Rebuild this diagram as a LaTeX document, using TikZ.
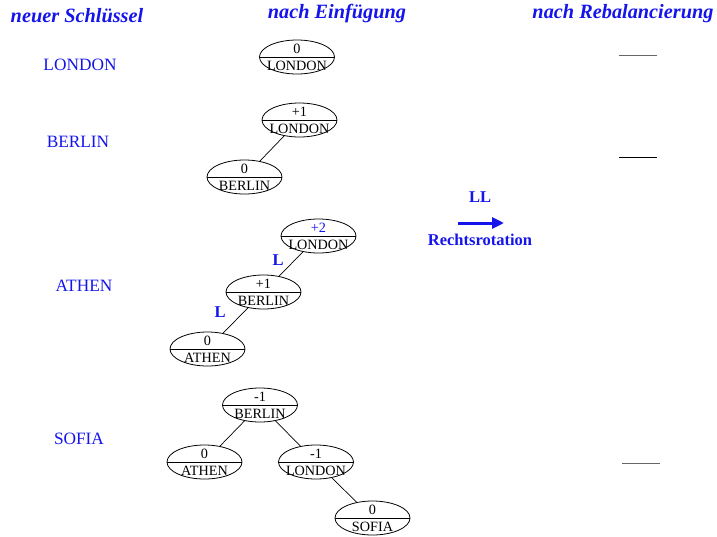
\documentclass[tikz,border=0pt]{standalone}
\usepackage{fontspec}
\setmainfont{Liberation Serif}
\usetikzlibrary{shapes.geometric,arrows.meta}
\definecolor{hblue}{RGB}{20,20,235}
\tikzset{
  avlnode/.style={ellipse,draw,line width=0.8pt,minimum width=75pt,minimum height=34pt,inner sep=0pt},
  avltext/.style={font=\fontsize{14.2}{14}\selectfont,inner sep=0pt},
  header/.style={font=\fontsize{20.3}{20}\selectfont\bfseries\itshape,text=hblue},
  keylabel/.style={font=\fontsize{17.3}{17}\selectfont,text=hblue},
  edgelabel/.style={font=\fontsize{16.5}{16}\selectfont\bfseries,text=hblue},
  treeedge/.style={line width=0.7pt},
  placeholder/.style={line width=0.9pt}
}
\newcommand{\avl}[5][black]{%
  \node[avlnode] (#2) at (#3) {};
  \draw[line width=0.8pt] (#2.west) -- (#2.east);
  \node[avltext,text=#1] (#2-bal) at ([yshift=8.5pt]#2.center) {#4};
  \node[avltext] (#2-key) at ([yshift=-8.5pt]#2.center) {#5};
}
\begin{document}
\begin{tikzpicture}[x=1pt,y=-1pt]
\useasboundingbox (0,0) rectangle (717,536);
% headers
\node[header] (h1) at (77,16) {neuer Schlüssel};
\node[header] (h2) at (337,14) {nach Einfügung};
\node[header] (h3) at (623,14) {nach Rebalancierung};
% left key labels
\node[keylabel] (k1) at (80,65) {LONDON};
\node[keylabel] (k2) at (78,142) {BERLIN};
\node[keylabel] (k3) at (84,286) {ATHEN};
\node[keylabel] (k4) at (79,439) {SOFIA};
% tree 1
\avl{t1L}{297,57}{0}{LONDON}
% tree 2
\avl{t2L}{299.5,120}{+1}{LONDON}
\avl{t2B}{244.5,177}{0}{BERLIN}
\draw[treeedge] (t2L) -- (t2B);
% tree 3
\avl[hblue]{t3L}{318.5,236}{+2}{LONDON}
\avl{t3B}{263.5,292}{+1}{BERLIN}
\avl{t3A}{207.5,349}{0}{ATHEN}
\draw[treeedge] (t3L) -- (t3B);
\draw[treeedge] (t3B) -- (t3A);
\node[edgelabel] (l1) at (278,260) {L};
\node[edgelabel] (l2) at (220,312) {L};
% tree 4
\avl{t4B}{260,405}{-1}{BERLIN}
\avl{t4A}{204.5,462}{0}{ATHEN}
\avl{t4L}{316,462}{-1}{LONDON}
\avl{t4S}{372.5,518}{0}{SOFIA}
\draw[treeedge] (t4B) -- (t4A);
\draw[treeedge] (t4B) -- (t4L);
\draw[treeedge] (t4L) -- (t4S);
% rotation arrow
\node[edgelabel] (ll) at (480,197) {LL};
\coordinate (as) at (458,223);
\coordinate (ae) at (504,223);
\draw[hblue,line width=3pt,-{Triangle[length=12pt,width=11pt]}] (as) -- (ae);
\node[edgelabel] (rr) at (480,240) {Rechtsrotation};
% placeholders on the right
\coordinate (p1a) at (619,55); \coordinate (p1b) at (657,55);
\coordinate (p2a) at (619,157); \coordinate (p2b) at (657,157);
\coordinate (p3a) at (622,463); \coordinate (p3b) at (660,463);
\draw[placeholder,black!60] (p1a) -- (p1b);
\draw[placeholder] (p2a) -- (p2b);
\draw[placeholder,black!60] (p3a) -- (p3b);
\end{tikzpicture}
\end{document}
